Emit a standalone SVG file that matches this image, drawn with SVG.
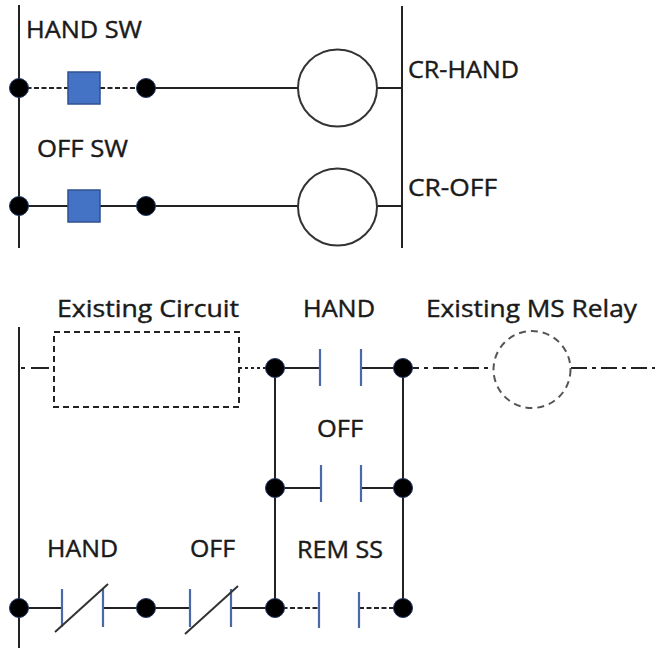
<svg xmlns="http://www.w3.org/2000/svg" width="655" height="648" viewBox="0 0 655 648">
<style>
.w{stroke:#222;stroke-width:2;fill:none}
.dash{stroke:#222;stroke-width:2;fill:none;stroke-dasharray:5 2.5}
.dd{stroke:#222;stroke-width:2;fill:none;stroke-dasharray:16 5 4 5}
.plate{stroke:#4a6aa5;stroke-width:2.2;fill:none}
.dot{fill:#000;stroke:#1f3864;stroke-width:1}
.sw{fill:#4472C4;stroke:#2F528F;stroke-width:1.5}
.coil{fill:#fff;stroke:#333;stroke-width:2}
.lbl{font-family:"Open Sans","Liberation Sans",sans-serif;font-size:23px;fill:#1a1a1a;stroke:#1a1a1a;stroke-width:0.4}
</style>
<rect width="655" height="648" fill="#fff"/>
<g id="connectors">
<line class="w" x1="19" y1="5" x2="19" y2="248"/>
<line class="w" x1="402" y1="6" x2="402" y2="248"/>
<line class="dash" x1="19" y1="88" x2="68" y2="88"/>
<line class="dash" x1="100" y1="88" x2="146" y2="88"/>
<line class="w" x1="146" y1="88" x2="298" y2="88"/>
<line class="w" x1="377" y1="88" x2="402" y2="88"/>
<line class="w" x1="19" y1="206" x2="298" y2="206"/>
<line class="w" x1="377" y1="206" x2="402" y2="206"/>
<line class="w" x1="19" y1="327" x2="19" y2="648"/>
<line class="dd" x1="21" y1="368" x2="54" y2="368" style="stroke-dasharray:4 6 18 4"/>
<line class="dash" x1="239" y1="368" x2="275" y2="368" style="stroke-dasharray:3 3"/>
<line class="w" x1="275" y1="368" x2="320" y2="368"/>
<line class="w" x1="361" y1="368" x2="403" y2="368"/>
<line class="dd" x1="403" y1="368" x2="493" y2="368"/>
<line class="dd" x1="571" y1="368" x2="655" y2="368"/>
<line class="w" x1="275" y1="368" x2="275" y2="608"/>
<line class="w" x1="403" y1="368" x2="403" y2="608"/>
<line class="w" x1="275" y1="488" x2="321" y2="488"/>
<line class="w" x1="361" y1="488" x2="403" y2="488"/>
<line class="dash" x1="275" y1="608" x2="319" y2="608"/>
<line class="dash" x1="359" y1="608" x2="403" y2="608"/>
<line class="w" x1="19" y1="608" x2="62" y2="608"/>
<line class="w" x1="103" y1="608" x2="190" y2="608"/>
<line class="w" x1="231" y1="608" x2="275" y2="608"/>
</g>
<g id="hand-sw">
<rect class="sw" x="68" y="72" width="32" height="32"/>
<text class="lbl" x="26" y="38" textLength="116" lengthAdjust="spacingAndGlyphs">HAND SW</text>
</g>
<g id="off-sw">
<rect class="sw" x="68" y="190" width="32" height="32"/>
<text class="lbl" x="37" y="157" textLength="91" lengthAdjust="spacingAndGlyphs">OFF SW</text>
</g>
<g id="cr-hand">
<ellipse class="coil" cx="337.5" cy="88" rx="39.5" ry="38.5"/>
<text class="lbl" x="408" y="78" textLength="111" lengthAdjust="spacingAndGlyphs">CR-HAND</text>
</g>
<g id="cr-off">
<ellipse class="coil" cx="337.5" cy="207" rx="39.5" ry="38.5"/>
<text class="lbl" x="408" y="196" textLength="89" lengthAdjust="spacingAndGlyphs">CR-OFF</text>
</g>
<g id="existing-circuit">
<rect x="54" y="332" width="185" height="75" fill="none" stroke="#222" stroke-width="2" stroke-dasharray="6 4"/>
<text class="lbl" x="57" y="317" textLength="182" lengthAdjust="spacingAndGlyphs">Existing Circuit</text>
</g>
<g id="hand-contact">
<line class="plate" x1="320" y1="349" x2="320" y2="386"/>
<line class="plate" x1="361" y1="349" x2="361" y2="386"/>
<text class="lbl" x="303" y="317" textLength="72" lengthAdjust="spacingAndGlyphs">HAND</text>
</g>
<g id="ms-relay">
<circle cx="532" cy="369.5" r="38.5" fill="none" stroke="#555" stroke-width="2" stroke-dasharray="7 5"/>
<text class="lbl" x="426" y="317" textLength="211" lengthAdjust="spacingAndGlyphs">Existing MS Relay</text>
</g>
<g id="off-contact">
<line class="plate" x1="321" y1="465" x2="321" y2="502"/>
<line class="plate" x1="361" y1="465" x2="361" y2="502"/>
<text class="lbl" x="317" y="437" textLength="46" lengthAdjust="spacingAndGlyphs">OFF</text>
</g>
<g id="rem-ss-contact">
<line class="plate" x1="319" y1="592" x2="319" y2="628"/>
<line class="plate" x1="359" y1="592" x2="359" y2="628"/>
<text class="lbl" x="297" y="558" textLength="86" lengthAdjust="spacingAndGlyphs">REM SS</text>
</g>
<g id="hand-nc">
<line class="plate" x1="62" y1="589" x2="62" y2="627"/>
<line class="plate" x1="103" y1="589" x2="103" y2="627"/>
<line x1="55" y1="632" x2="108" y2="584" stroke="#333" stroke-width="2"/>
<text class="lbl" x="47" y="557" textLength="71" lengthAdjust="spacingAndGlyphs">HAND</text>
</g>
<g id="off-nc">
<line class="plate" x1="190" y1="589" x2="190" y2="627"/>
<line class="plate" x1="231" y1="589" x2="231" y2="627"/>
<line x1="185" y1="634" x2="238" y2="586" stroke="#333" stroke-width="2"/>
<text class="lbl" x="190" y="557" textLength="45" lengthAdjust="spacingAndGlyphs">OFF</text>
</g>
<g id="junctions">
<circle class="dot" cx="19" cy="88" r="9.5"/>
<circle class="dot" cx="146" cy="88" r="9.5"/>
<circle class="dot" cx="19" cy="206" r="9.5"/>
<circle class="dot" cx="146" cy="206" r="9.5"/>
<circle class="dot" cx="275" cy="368" r="9.5"/>
<circle class="dot" cx="403" cy="368" r="9.5"/>
<circle class="dot" cx="275" cy="488" r="9.5"/>
<circle class="dot" cx="403" cy="488" r="9.5"/>
<circle class="dot" cx="19" cy="608" r="9.5"/>
<circle class="dot" cx="146" cy="608" r="9.5"/>
<circle class="dot" cx="275" cy="608" r="9.5"/>
<circle class="dot" cx="403" cy="608" r="9.5"/>
</g>
</svg>
